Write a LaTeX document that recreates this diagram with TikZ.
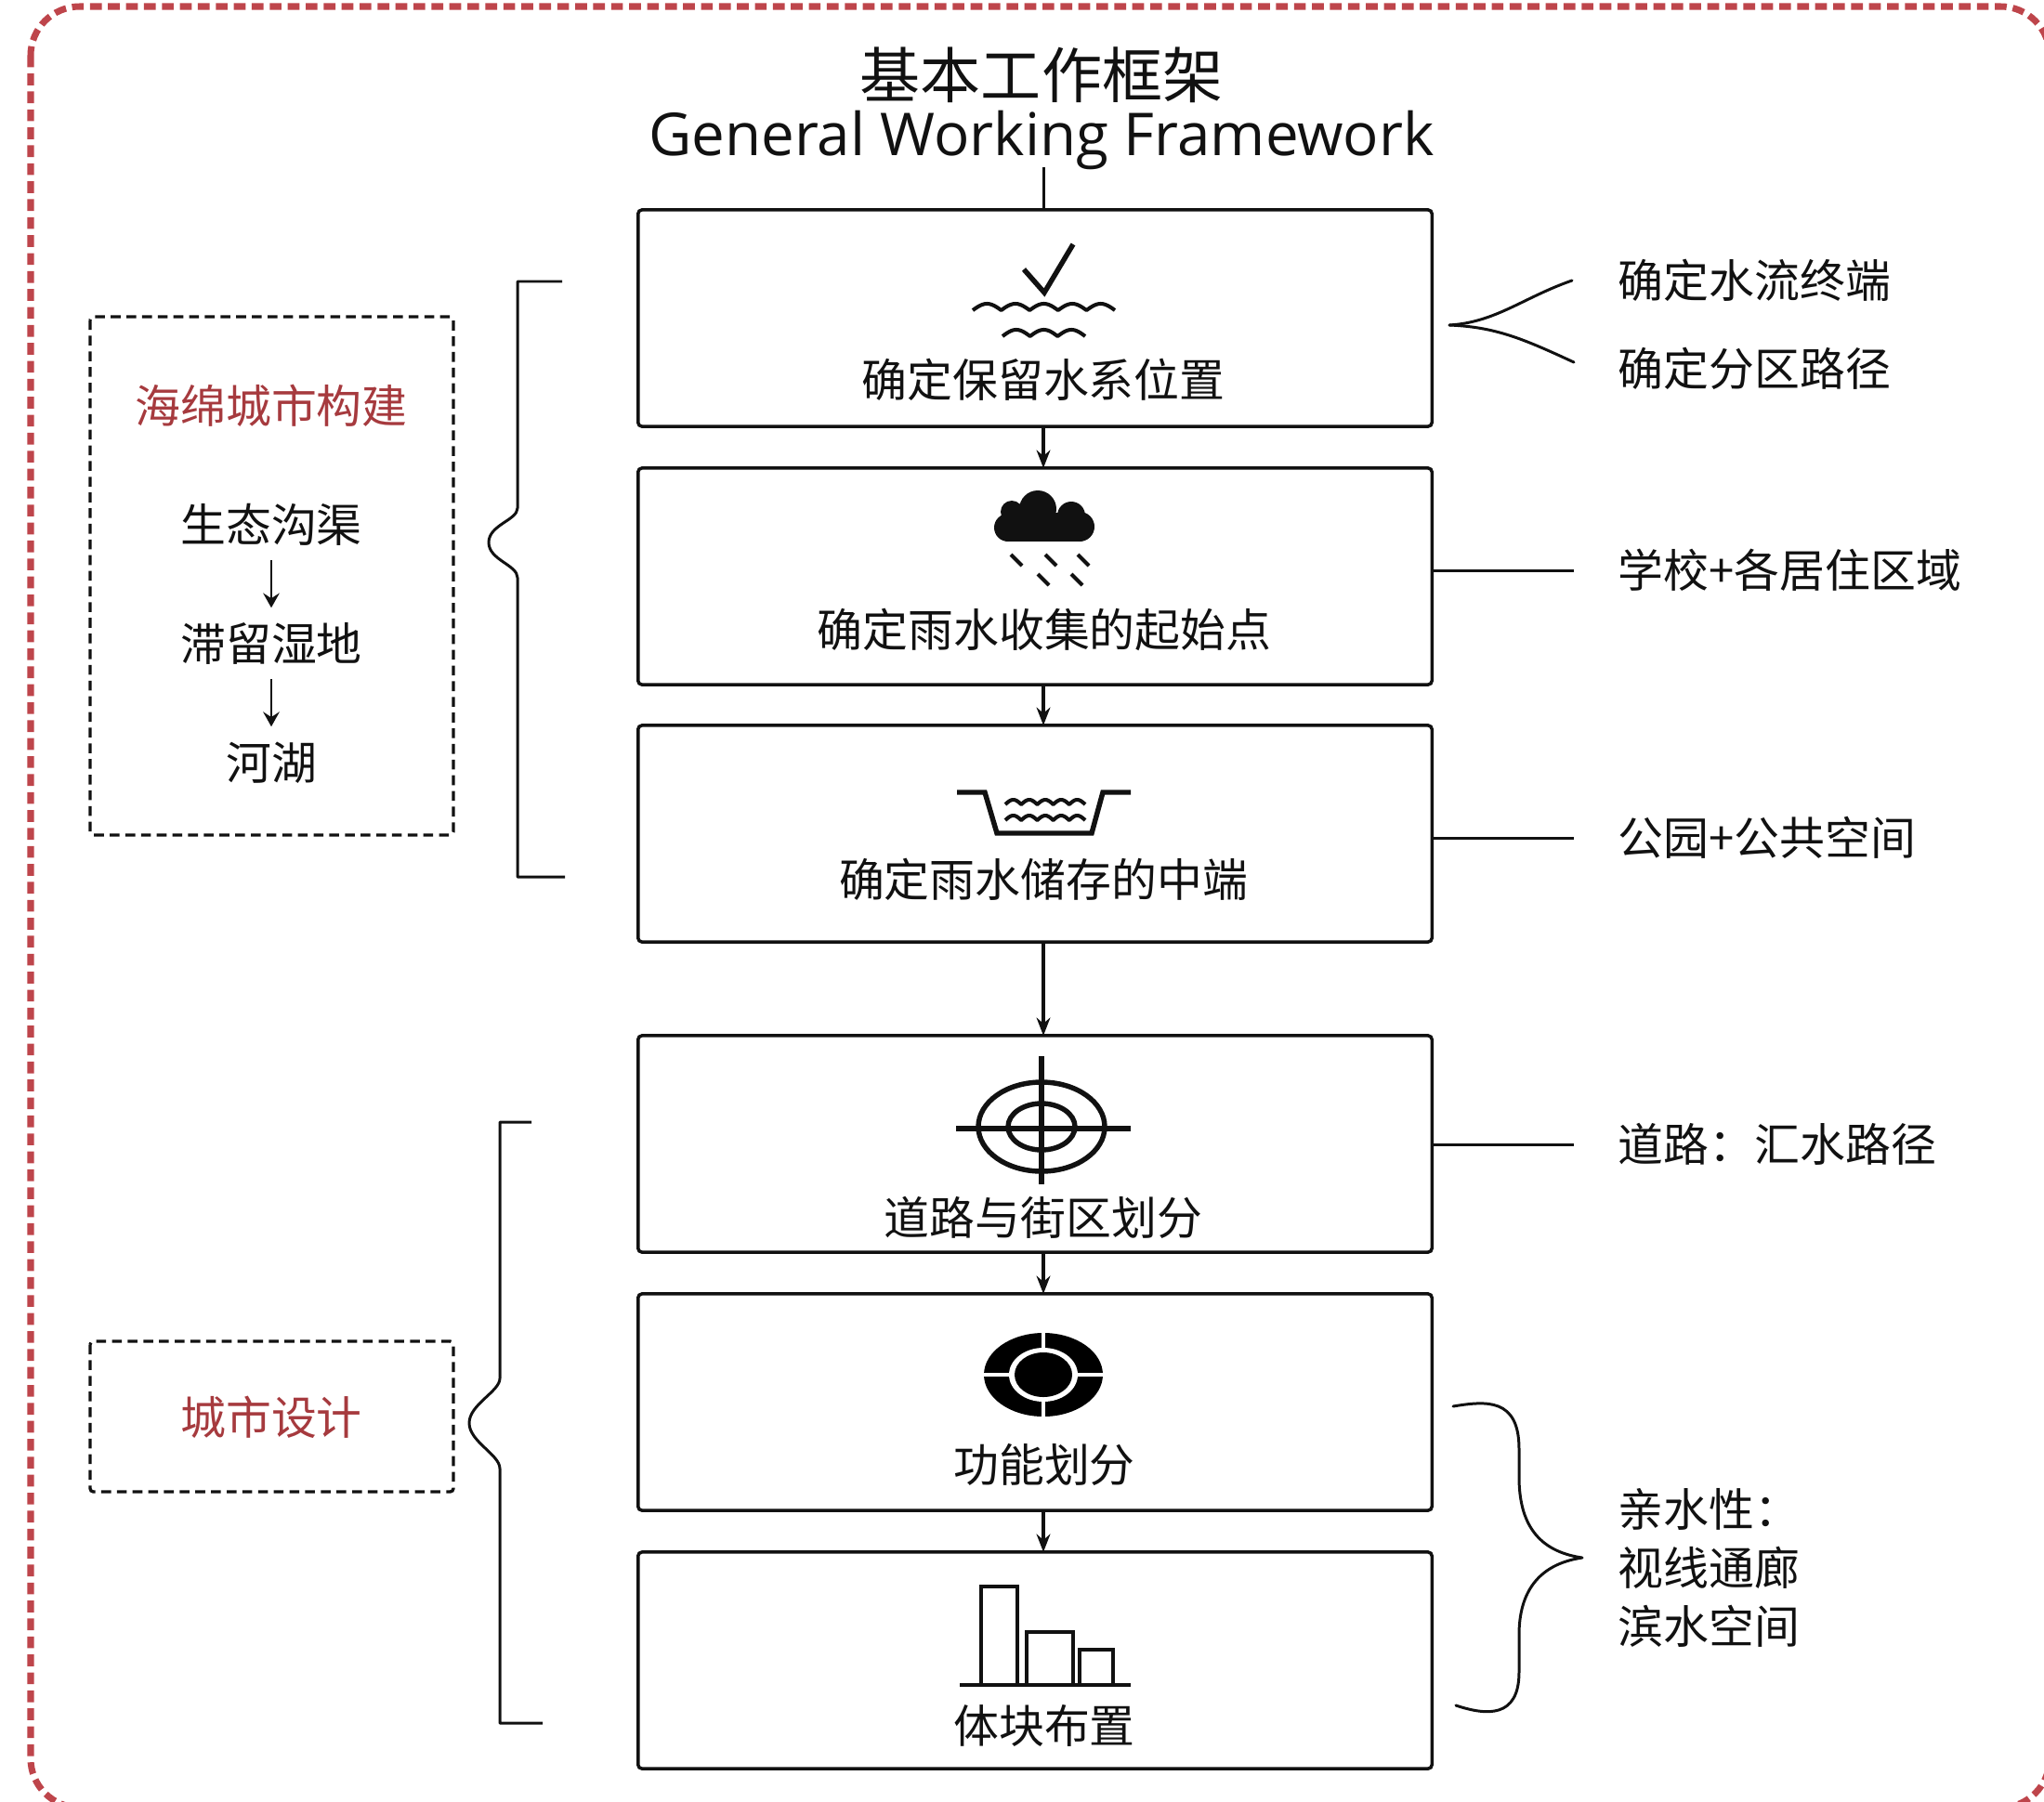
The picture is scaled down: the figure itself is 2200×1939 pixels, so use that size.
\documentclass[tikz,border=0pt]{standalone}
\usepackage{xcolor}
\usepackage{fontspec}
\setmainfont{Noto Sans CJK SC}
\newfontfamily\enfont{Open Sans}
\usepackage{tikz}
\usetikzlibrary{calc,arrows.meta}
\definecolor{ink}{HTML}{111111}
\definecolor{wine}{HTML}{A63A3E}
\definecolor{frame}{HTML}{BE454B}
\tikzset{
  wall/.style={draw=frame, line width=2pt, dash pattern=on 3.6pt off 1.9pt, rounded corners=15pt},
  box/.style={draw=ink, line width=1pt, rounded corners=1.2pt, minimum width=8.54cm, minimum height=2.33cm, inner sep=0pt, outer sep=0pt},
  dbox/.style={draw=ink, line width=0.95pt, dash pattern=on 3pt off 1.8pt, rounded corners=1pt},
  lab/.style={text=ink, inner sep=0pt, font=\fontsize{13.9}{17.9}\selectfont},
  labr/.style={lab, text=wine},
  note/.style={lab, anchor=west},
  line/.style={draw=ink, line width=0.85pt},
  arr/.style={line, line width=0.95pt, -{Stealth[length=5.5pt,width=4.2pt]}},
  thin/.style={line, line width=0.75pt, -{Stealth[length=4.5pt,width=5pt,inset=1.6pt]}},
  brace/.style={line, line join=round, line cap=round},
  ico/.style={draw=ink, line width=1.15pt},
  icob/.style={draw=ink, line width=1.55pt},
}
\newcommand{\wavy}[5]{\draw[ico,line join=round] plot[domain=0:#3,samples=61] ({#1+\x},{#2-#5*abs(sin(\x/#3*180*#4))});}

\begin{document}
\begin{tikzpicture}[x=0.01cm,y=-0.01cm]
  \useasboundingbox (0,0) rectangle (2200,1939);
  \draw[wall] (33,7) rectangle (2206,1946);

  % title
  \node[inner sep=0pt,text=ink,font=\fontsize{18.5}{20}\selectfont] (ttl) at (1121,81) {基本工作框架};
  \node[inner sep=0pt,text=ink,font=\enfont\fontsize{18.1}{20}\selectfont] (ttlen) at (1121,151) {General Working Framework};

  % main column
  \node[box] (b1) at (1114,342.5) {};
  \node[box] (b2) at (1114,620.5) {};
  \node[box] (b3) at (1114,897.5) {};
  \node[box] (b4) at (1114,1231.5) {};
  \node[box] (b5) at (1114,1509.5) {};
  \node[box] (b6) at (1114,1787.5) {};
  \node[lab] (t1) at (1123,409) {确定保留水系位置};
  \node[lab] (t2) at (1124,678) {确定雨水收集的起始点};
  \node[lab] (t3) at (1123,947) {确定雨水储存的中端};
  \node[lab] (t4) at (1123,1311) {道路与街区划分};
  \node[lab] (t5) at (1124,1577) {功能划分};
  \node[lab] (t6) at (1124,1858) {体块布置};

  \coordinate (top) at (1123,180);
  \draw[line] (top) -- (top |- b1.north);
  \foreach \a/\b in {b1/b2,b2/b3,b3/b4,b4/b5,b5/b6}
    \draw[arr] (\a.south -| top) -- (\b.north -| top);

  % icon: check and water
  \draw[icob] (1102,290) -- (1124,315) -- (1155,263);
  \wavy{1047}{334}{153}{5}{7}
  \wavy{1079}{362}{89}{3}{7}

  % icon: cloud and rain
  \fill[ink] (1117,548) circle (20) (1089,551) circle (12) (1153,555) circle (15)
    (1085,568) circle (15) (1162,567) circle (16);
  \fill[ink] (1085,552) rectangle (1162,583);
  \foreach \xa/\ya in {1088/597,1125/597,1160/597,1117/618,1153/618}
    \draw[ico] (\xa,\ya) -- ++(12,12);

  % icon: basin
  \draw[icob,line join=miter] (1030,853) -- (1060,853) -- (1073,897) -- (1175,897) -- (1187,853) -- (1217,853);
  \wavy{1082}{866}{86}{5}{5}
  \wavy{1082}{883}{86}{5}{5}

  % icon: target
  \draw[icob] (1121,1213) ellipse [x radius=68, y radius=48];
  \draw[icob] (1121,1213) ellipse [x radius=36, y radius=25];
  \draw[icob] (1121,1137) -- (1121,1275);
  \draw[icob] (1029,1215) -- (1217,1215);

  % icon: zones
  \fill[black] (1123,1480) ellipse [x radius=64, y radius=45];
  \draw[white,line width=1.2pt] (1123,1433) -- (1123,1527) (1057,1480) -- (1189,1480);
  \fill[white] (1123,1480) ellipse [x radius=37, y radius=29];
  \fill[black] (1123,1480) ellipse [x radius=31, y radius=24];

  % icon: blocks
  \draw[ico] (1056,1814) -- (1056,1708) -- (1095,1708) -- (1095,1814);
  \draw[ico] (1105,1814) -- (1105,1757) -- (1155,1757) -- (1155,1814);
  \draw[ico] (1162,1814) -- (1162,1776) -- (1198,1776) -- (1198,1814);
  \draw[ico] (1033,1814) -- (1217,1814);

  % right notes
  \node[note] (n1) at (1741,302) {确定水流终端};
  \node[note] (n2) at (1741,397) {确定分区路径};
  \node[note] (n3) at (1741,614) {学校+各居住区域};
  \node[note] (n4) at (1741,902) {公园+公共空间};
  \node[note] (n5) at (1741,1232) {道路：汇水路径};
  \node[note,align=left] (n6) at (1741,1688) {亲水性：\\视线通廊\\滨水空间};

  \coordinate (e1) at (1692,302);
  \coordinate (e2) at (1694,390);
  \coordinate (f1) at (1560,350);
  \draw[brace] (e1) .. controls (1640,320) and (1610,347) .. (f1);
  \draw[brace] (e2) .. controls (1640,365) and (1610,352) .. (f1);
  \coordinate (e3) at (1694,614);
  \coordinate (e4) at (1694,902);
  \coordinate (e5) at (1694,1232);
  \draw[line] (b2.east |- e3) -- (e3);
  \draw[line] (b3.east |- e4) -- (e4);
  \draw[line] (b4.east |- e5) -- (e5);

  \draw[brace] (1564,1514) .. controls (1600,1508) and (1635,1505) .. (1635,1560)
    -- (1635,1590) .. controls (1635,1640) and (1655,1670) .. (1703,1677)
    .. controls (1655,1684) and (1635,1715) .. (1635,1760)
    -- (1635,1800) .. controls (1635,1850) and (1600,1847) .. (1567,1836);

  % left side
  \draw[dbox] (97,341) rectangle (488,899);
  \node[labr] (s0) at (292,437) {海绵城市构建};
  \node[lab] (s1) at (292,565) {生态沟渠};
  \node[lab] (s2) at (292,693) {滞留湿地};
  \node[lab] (s3) at (292,821) {河湖};
  \draw[thin] (s1.south) ++(0,15) -- ++(0,51);
  \draw[thin] (s2.south) ++(0,15) -- ++(0,51);
  \draw[dbox] (97,1444) rectangle (488,1606);
  \node[labr] (d0) at (292,1526) {城市设计};

  \draw[brace,line cap=butt] (605,303) -- (557,303) -- (557,547) .. controls (557,560) and (526,565) .. (526,584)
    .. controls (526,603) and (557,608) .. (557,622) -- (557,944) -- (608,944);
  \draw[brace,line cap=butt] (572,1208) -- (538,1208) -- (538,1484) .. controls (538,1498) and (505,1512) .. (505,1532)
    .. controls (505,1552) and (538,1566) .. (538,1581) -- (538,1855) -- (584,1855);
\end{tikzpicture}
\end{document}
